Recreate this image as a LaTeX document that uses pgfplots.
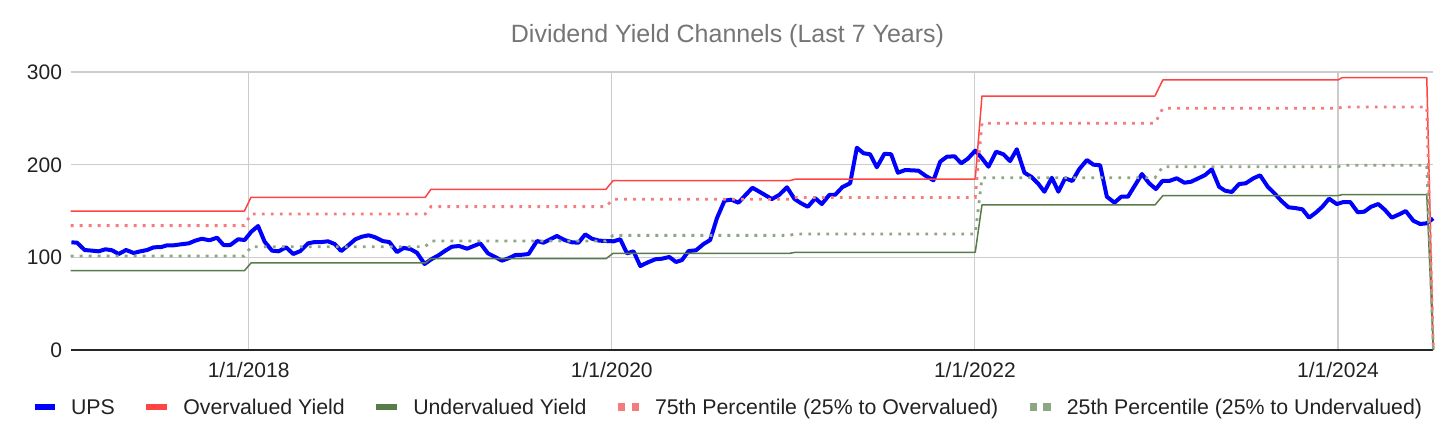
\documentclass[border=0pt]{standalone}
\usepackage{pgfplots}
\pgfplotsset{compat=1.18}
\usepackage{fontspec}
\setmainfont{Liberation Sans}
\definecolor{ups}{HTML}{0000FF}
\definecolor{over}{HTML}{FF4444}
\definecolor{under}{HTML}{587B4A}
\definecolor{pseventyfive}{HTML}{F47C7C}
\definecolor{ptwentyfive}{HTML}{8DA683}
\definecolor{gridc}{HTML}{CCCCCC}
\definecolor{labc}{HTML}{222222}
\definecolor{titc}{HTML}{757575}
\begin{document}
\begin{tikzpicture}
\useasboundingbox (0,0) rectangle (1456pt,440pt);
\begin{axis}[
  at={(70.7pt,90pt)}, anchor=south west,
  scale only axis, width=1362.6pt, height=278pt,
  xmin=2017.02, xmax=2024.525, ymin=0, ymax=300,
  xtick={2018,2020,2022,2024},
  xticklabels={1/1/2018,1/1/2020,1/1/2022,1/1/2024},
  ytick={100,200,300},
  extra y ticks={0},
  extra y tick style={major grid style={draw=black!85, line width=1.6pt}},
  grid=major,
  major grid style={draw=gridc, line width=1.2pt},
  major tick length=0pt,
  axis line style={draw=none},
  clip=false,
  /pgf/number format/assume math mode=true,
  tick label style={font=\fontsize{21}{25}\selectfont, text=labc},
  xticklabel style={anchor=north, inner sep=0pt, text height=15pt, text depth=0pt, yshift=-12pt},
  yticklabel style={anchor=east, inner sep=0pt, text height=15pt, text depth=0pt, xshift=-8.5pt},
  title={Dividend Yield Channels (Last 7 Years)},
  title style={font=\fontsize{25}{30}\selectfont, text=titc, at={(0.482,1.0863)}, anchor=base, inner sep=0pt},
  legend columns=5,
  legend cell align=left,
  legend style={at={(0.4828,-0.2050)}, anchor=center, draw=none, fill=none, inner sep=0pt,
    font=\fontsize{21.3}{25}\selectfont, text=labc,
    nodes={inner sep=0pt, text height=15.3pt, text depth=0pt},
    /tikz/every odd column/.append style={column sep=16pt},
    /tikz/every even column/.append style={column sep=31.5pt}},
]
\addplot[ups, line width=4pt, line join=round,
  legend image code/.code={\path[fill=ups, draw=none] (0pt,-3.3pt) rectangle (20pt,3.3pt);}] table {
x y
2017.024 116.2
2017.055 115.8
2017.097 107.9
2017.138 107.2
2017.174 106.5
2017.211 108.7
2017.248 107.6
2017.284 103.6
2017.325 107.9
2017.367 104.7
2017.404 106.5
2017.441 107.9
2017.477 110.8
2017.519 111.1
2017.551 113.0
2017.587 113.0
2017.629 114.1
2017.670 115.1
2017.706 118.0
2017.743 120.1
2017.784 118.4
2017.826 121.2
2017.862 113.3
2017.899 113.3
2017.942 119.5
2017.978 118.7
2018.015 127.7
2018.052 133.8
2018.088 116.9
2018.129 107.2
2018.165 106.5
2018.206 110.8
2018.246 103.6
2018.285 106.8
2018.327 115.1
2018.363 116.5
2018.400 116.5
2018.437 117.3
2018.474 114.4
2018.510 106.8
2018.551 113.3
2018.588 119.5
2018.624 122.3
2018.661 123.8
2018.698 121.6
2018.738 117.6
2018.775 116.5
2018.817 105.7
2018.854 110.1
2018.890 109.0
2018.927 105.0
2018.969 92.8
2019.006 97.9
2019.046 102.2
2019.083 107.2
2019.120 111.5
2019.160 112.2
2019.203 109.3
2019.239 112.2
2019.276 115.1
2019.318 104.3
2019.355 100.7
2019.395 96.4
2019.432 99.0
2019.469 102.5
2019.506 102.8
2019.542 103.6
2019.588 117.6
2019.624 115.8
2019.661 119.5
2019.698 123.0
2019.740 118.7
2019.781 116.2
2019.817 115.8
2019.854 124.8
2019.891 120.1
2019.931 118.0
2019.974 117.6
2020.010 117.3
2020.047 119.5
2020.084 104.3
2020.120 106.5
2020.157 90.6
2020.199 94.6
2020.240 97.9
2020.276 98.5
2020.317 100.4
2020.354 95.0
2020.387 97.1
2020.423 106.8
2020.464 107.6
2020.506 114.4
2020.542 118.7
2020.579 142.1
2020.621 161.1
2020.658 162.2
2020.698 159.0
2020.735 166.9
2020.775 175.1
2020.829 169.0
2020.882 162.9
2020.922 167.3
2020.965 175.6
2021.007 162.9
2021.043 158.3
2021.080 154.6
2021.121 163.7
2021.157 157.5
2021.198 167.3
2021.231 167.6
2021.271 175.9
2021.313 179.9
2021.350 218.3
2021.387 212.3
2021.423 211.2
2021.460 197.2
2021.502 211.8
2021.539 211.2
2021.576 191.3
2021.616 194.2
2021.653 193.9
2021.689 193.5
2021.730 187.8
2021.772 183.1
2021.809 203.2
2021.846 208.6
2021.888 209.0
2021.925 201.5
2021.961 206.4
2022.002 215.1
2022.039 206.9
2022.075 197.8
2022.117 214.0
2022.157 211.2
2022.194 203.9
2022.231 216.6
2022.273 191.3
2022.310 187.0
2022.347 179.9
2022.383 170.8
2022.424 185.9
2022.460 170.8
2022.497 185.3
2022.537 182.4
2022.574 195.0
2022.617 205.0
2022.653 200.0
2022.690 199.3
2022.727 165.4
2022.769 159.0
2022.806 165.4
2022.843 165.4
2022.883 178.1
2022.920 189.9
2022.960 179.9
2022.997 173.7
2023.033 182.4
2023.070 182.4
2023.112 185.3
2023.154 180.5
2023.191 181.6
2023.231 185.3
2023.268 188.8
2023.305 195.0
2023.345 176.2
2023.378 171.9
2023.415 170.5
2023.455 179.1
2023.492 179.9
2023.534 185.3
2023.571 188.5
2023.613 176.2
2023.650 169.1
2023.687 161.1
2023.727 154.0
2023.764 153.2
2023.804 151.8
2023.841 142.8
2023.878 148.2
2023.914 154.6
2023.951 163.3
2023.993 157.5
2024.030 159.7
2024.067 159.7
2024.109 148.6
2024.145 149.3
2024.182 154.6
2024.222 157.5
2024.259 151.1
2024.296 142.8
2024.337 146.4
2024.373 150.0
2024.415 139.5
2024.452 136.0
2024.489 136.7
2024.524 142.0
};
\addlegendentry{UPS}
\addplot[over, line width=1.5pt, line join=round,
  legend image code/.code={\path[fill=over, draw=none] (0pt,-3.3pt) rectangle (21pt,3.3pt);}] table {
x y
2017.02 150.0
2017.977 150.0
2018.013 164.8
2018.973 164.8
2019.004 173.4
2019.968 173.4
2020.007 182.7
2020.980 182.7
2021.010 184.3
2022.002 184.3
2022.039 274.1
2022.992 274.1
2023.035 291.4
2024.000 291.4
2024.022 293.8
2024.489 293.8
2024.525 0
};
\addlegendentry{Overvalued Yield}
\addplot[under, line width=1.5pt, line join=round,
  legend image code/.code={\path[fill=under, draw=none] (0pt,-3.3pt) rectangle (21pt,3.3pt);}] table {
x y
2017.02 85.6
2017.977 85.6
2018.013 93.9
2018.973 93.9
2019.004 98.5
2019.968 98.5
2020.007 104.3
2020.980 104.3
2021.010 105.4
2022.002 105.4
2022.039 156.5
2022.992 156.5
2023.035 166.5
2024.000 166.5
2024.022 167.6
2024.489 167.6
2024.525 0
};
\addlegendentry{Undervalued Yield}
\addplot[pseventyfive, line width=2.8pt, dash pattern=on 2.8pt off 6.2pt,
  legend image code/.code={\path[fill=pseventyfive, draw=none] (0pt,-3.6pt) rectangle (7.4pt,3.6pt);
    \path[fill=pseventyfive, draw=none] (13.6pt,-3.6pt) rectangle (21pt,3.6pt);}] table {
x y
2017.02 134.2
2017.977 134.2
2018.013 146.8
2018.973 146.8
2019.004 154.7
2019.968 154.7
2020.007 162.6
2020.980 162.6
2021.010 164.6
2022.002 164.6
2022.039 244.6
2022.992 244.6
2023.035 260.8
2024.000 260.8
2024.022 262.2
2024.489 262.2
2024.525 0
};
\addlegendentry{75th Percentile (25\% to Overvalued)}
\addplot[ptwentyfive, line width=2.8pt, dash pattern=on 2.8pt off 6.2pt,
  legend image code/.code={\path[fill=ptwentyfive, draw=none] (0pt,-3.6pt) rectangle (7.4pt,3.6pt);
    \path[fill=ptwentyfive, draw=none] (13.6pt,-3.6pt) rectangle (21pt,3.6pt);}] table {
x y
2017.02 101.4
2017.977 101.4
2018.013 111.5
2018.973 111.5
2019.004 117.6
2019.968 117.6
2020.007 123.7
2020.980 123.7
2021.010 125.2
2022.002 125.2
2022.039 185.9
2022.992 185.9
2023.035 197.8
2024.000 197.8
2024.022 199.3
2024.489 199.3
2024.525 0
};
\addlegendentry{25th Percentile (25\% to Undervalued)}
\end{axis}
\end{tikzpicture}
\end{document}
